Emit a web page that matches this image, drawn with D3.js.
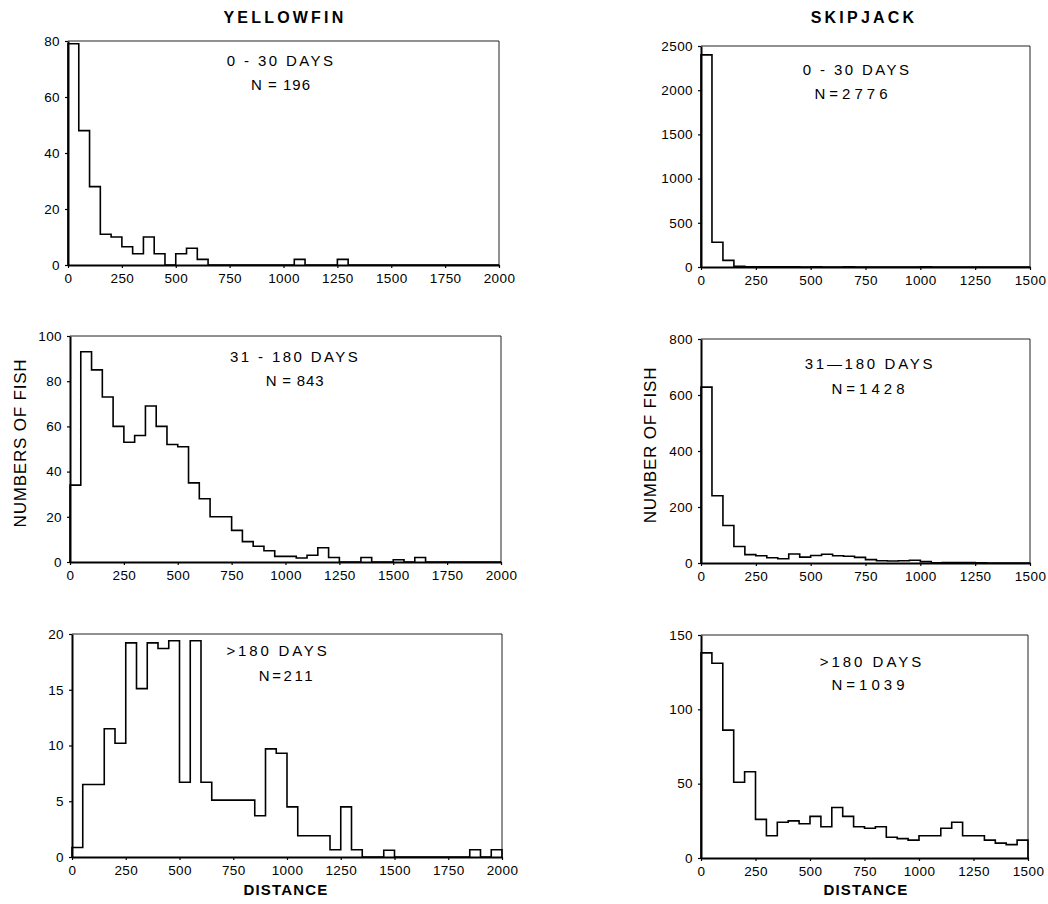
<!DOCTYPE html>
<html>
<head>
<meta charset="utf-8">
<script src="https://cdn.jsdelivr.net/npm/d3@7/dist/d3.min.js"></script>
<style>
  html, body { margin: 0; padding: 0; background: #fff; }
  svg { display: block; font-family: "Liberation Sans", Arial, Helvetica, sans-serif; }
</style>
</head>
<body>
<svg id="chart" width="1048" height="904"></svg>
<script>
// ---------- DATA ----------
const binWidth = 50;
// left edges of the distance bins
const yellowfinBins = [0,50,100,150,200,250,300,350,400,450,500,550,600,650,700,750,800,850,900,950,
  1000,1050,1100,1150,1200,1250,1300,1350,1400,1450,1500,1550,1600,1650,1700,1750,1800,1850,1900,1950];
const skipjackBins = [0,50,100,150,200,250,300,350,400,450,500,550,600,650,700,750,800,850,900,950,
  1000,1050,1100,1150,1200,1250,1300,1350,1400,1450];

// number of fish per bin
const yellowfin0to30 = [79,48,28,11,10,6.5,4,10,4,0,4,6,2,0,0,0,0,0,0,0,
  0,2,0,0,0,2,0,0,0,0,0,0,0,0,0,0,0,0,0,0];
const yellowfin31to180 = [34,93,85,73,60,53,56,69,60,52,51,35,28,20,20,14,9,7,5,2.5,
  2.5,1.8,3,6.3,2,0,0,2,0,0,1,0,2,0,0,0,0,0,0,0];
const yellowfinOver180 = [0.85,6.5,6.5,11.5,10.2,19.2,15.1,19.2,18.7,19.4,6.7,19.4,6.7,5.1,5.1,5.1,5.1,3.7,9.7,9.3,
  4.5,1.9,1.9,1.9,0.65,4.5,0.65,0,0,0.6,0,0,0,0,0,0,0,0.65,0,0.65];
const skipjack0to30 = [2400,280,75,8,3,2,1,1,1,0,1,0,0,1,0,0,0,0,0,0,1,0,0,0,0,0,0,0,0,0];
const skipjack31to180 = [628,240,134,59,30,26,19,15,32,21,27,31,26,24,20,12,8,7,8,10,5,1,2,2,2,1,0,0,0,0];
const skipjackOver180 = [138,131,86,51,58,26,15,24,25,23,28,21,34,28,21,20,21,14,13,12,15,15,20,24,15,15,12,10,9,12];

// tick labels
const yellowfinXTicks = [0,250,500,750,1000,1250,1500,1750,2000];
const skipjackXTicks = [0,250,500,750,1000,1250,1500];
const yTicksYF1 = [0,20,40,60,80];
const yTicksYF2 = [0,20,40,60,80,100];
const yTicksYF3 = [0,5,10,15,20];
const yTicksSJ1 = [0,500,1000,1500,2000,2500];
const yTicksSJ2 = [0,200,400,600,800];
const yTicksSJ3 = [0,50,100,150];

// texts
const speciesTitles = ["YELLOWFIN", "SKIPJACK"];
const periodLabels = ["0 - 30 DAYS", "31 - 180 DAYS", ">180 DAYS", "0 - 30 DAYS", "31\u2014180 DAYS", ">180 DAYS"];
const countLabels = ["N = 196", "N = 843", "N=211", "N=2776", "N=1428", "N=1039"];
const yAxisTitles = ["NUMBERS OF FISH", "NUMBER OF FISH"];
const xAxisTitle = "DISTANCE";

// ---------- LAYOUT ----------
const panels = [
  { bins: yellowfinBins, values: yellowfin0to30,  xTicks: yellowfinXTicks, yTicks: yTicksYF1,
    L: 68,  R: 499,  T: 41,  B: 265, lx: 281, ly1: 66,  ly2: 90,  ls1: 2.4, ls2: 1.0, lx2: 281 },
  { bins: yellowfinBins, values: yellowfin31to180, xTicks: yellowfinXTicks, yTicks: yTicksYF2,
    L: 70,  R: 501,  T: 336, B: 562, lx: 295, ly1: 362, ly2: 386, ls1: 2.4, ls2: 0.8, lx2: 295 },
  { bins: yellowfinBins, values: yellowfinOver180, xTicks: yellowfinXTicks, yTicks: yTicksYF3,
    L: 72,  R: 502,  T: 634, B: 857, lx: 278, ly1: 656, ly2: 681, ls1: 2.8, ls2: 2.6, lx2: 287 },
  { bins: skipjackBins, values: skipjack0to30,    xTicks: skipjackXTicks, yTicks: yTicksSJ1,
    L: 701, R: 1030, T: 46,  B: 267, lx: 857, ly1: 75,  ly2: 99,  ls1: 2.4, ls2: 4.0, lx2: 853 },
  { bins: skipjackBins, values: skipjack31to180,  xTicks: skipjackXTicks, yTicks: yTicksSJ2,
    L: 701, R: 1030, T: 339, B: 563, lx: 870, ly1: 369, ly2: 394, ls1: 2.7, ls2: 4.0, lx2: 870 },
  { bins: skipjackBins, values: skipjackOver180,  xTicks: skipjackXTicks, yTicks: yTicksSJ3,
    L: 701, R: 1028, T: 635, B: 858, lx: 872, ly1: 667, ly2: 690, ls1: 3.0, ls2: 4.0, lx2: 870 }
];

const svg = d3.select("#chart");

panels.forEach((p, i) => {
  const xMax = p.xTicks[p.xTicks.length - 1];
  const yMax = p.yTicks[p.yTicks.length - 1];
  const x = d3.scaleLinear().domain([0, xMax]).range([p.L, p.R]);
  const y = d3.scaleLinear().domain([0, yMax]).range([p.B, p.T]);

  const g = svg.append("g");

  // frame (top & right)
  g.append("path")
    .attr("d", `M${x(0)},${y(yMax)}H${x(xMax)}V${y(0)}`)
    .attr("fill", "none").attr("stroke", "#222").attr("stroke-width", 1);

  // step histogram
  const pts = [[p.bins[0], 0]];
  p.values.forEach((v, k) => {
    pts.push([p.bins[k], v]);
    pts.push([p.bins[k] + binWidth, v]);
  });
  pts.push([p.bins[p.bins.length - 1] + binWidth, 0]);
  const line = d3.line().x(d => x(d[0])).y(d => y(d[1]));
  g.append("path").datum(pts)
    .attr("d", line)
    .attr("fill", "none").attr("stroke", "#000").attr("stroke-width", 1.6)
    .attr("stroke-linejoin", "miter");

  // axes
  const yAxis = d3.axisLeft(y).tickValues(p.yTicks).tickSize(3).tickSizeOuter(0).tickPadding(5)
    .tickFormat(d3.format("d"));
  const xAxis = d3.axisBottom(x).tickValues(p.xTicks).tickSize(3).tickSizeOuter(0).tickPadding(5)
    .tickFormat(d3.format("d"));

  const gy = g.append("g").attr("transform", `translate(${p.L},0)`).call(yAxis);
  const gx = g.append("g").attr("transform", `translate(0,${p.B})`).call(xAxis);
  [gx, gy].forEach(a => {
    a.select(".domain").attr("stroke", "#000").attr("stroke-width", 2);
    a.selectAll(".tick line").attr("stroke", "#000").attr("stroke-width", 1.2);
    a.selectAll(".tick text").attr("fill", "#000")
      .style("font-size", "13.5px").style("letter-spacing", "0.4px")
      .style("font-family", '"Liberation Sans", Arial, sans-serif');
  });

  // panel annotations
  g.append("text").attr("x", p.lx).attr("y", p.ly1).attr("text-anchor", "middle")
    .style("font-size", "15px").style("letter-spacing", p.ls1 + "px")
    .text(periodLabels[i]);
  g.append("text").attr("x", p.lx2).attr("y", p.ly2).attr("text-anchor", "middle")
    .style("font-size", "15px").style("letter-spacing", p.ls2 + "px")
    .text(countLabels[i]);
});

// species titles
const titleX = [285, 864];
speciesTitles.forEach((t, i) => {
  svg.append("text").attr("x", titleX[i]).attr("y", 23).attr("text-anchor", "middle")
    .style("font-size", "16px").style("font-weight", "bold").style("letter-spacing", "3.2px")
    .text(t);
});

// y-axis titles
const yTitlePos = [[26, 443], [656, 445]];
yAxisTitles.forEach((t, i) => {
  svg.append("text")
    .attr("transform", `translate(${yTitlePos[i][0]},${yTitlePos[i][1]}) rotate(-90)`)
    .attr("text-anchor", "middle")
    .style("font-size", "17px").style("letter-spacing", "0.8px")
    .text(t);
});

// x-axis titles
[286, 866].forEach(cx => {
  svg.append("text").attr("x", cx).attr("y", 895).attr("text-anchor", "middle")
    .style("font-size", "15px").style("font-weight", "bold").style("letter-spacing", "1.2px")
    .text(xAxisTitle);
});
</script>
</body>
</html>
